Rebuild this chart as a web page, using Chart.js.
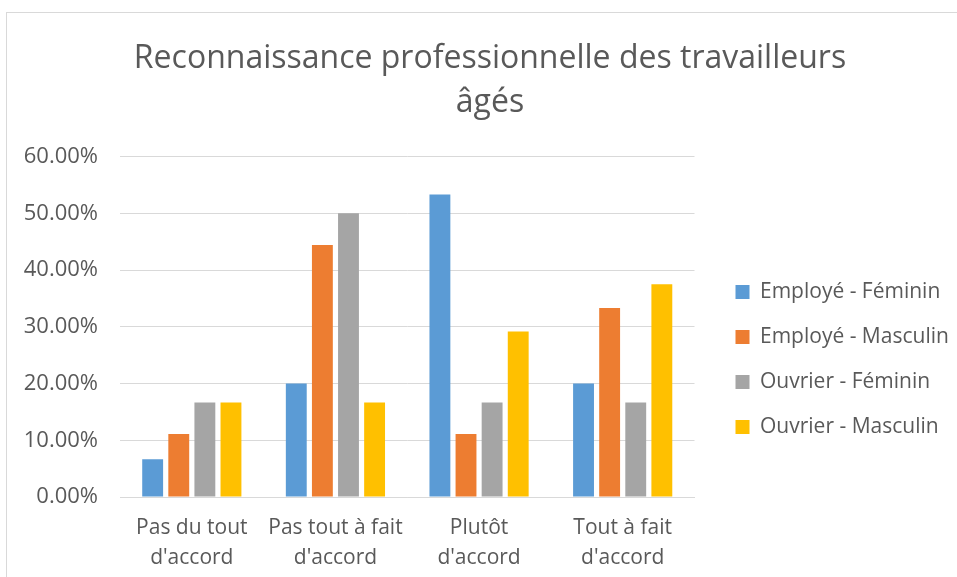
<!DOCTYPE html>
<html><head><meta charset="utf-8">
<script src="https://cdn.jsdelivr.net/npm/chart.js@4/dist/chart.umd.min.js"></script>
<style>
html,body{margin:0;padding:0;background:#fff;}
#wrap{position:relative;width:957px;height:577px;overflow:hidden;}
#frame{position:absolute;left:6px;top:12px;width:1000px;height:700px;border:1px solid #d9d9d9;box-sizing:border-box;}
#c{position:absolute;left:0;top:0;}
</style></head>
<body><div id="wrap"><div id="frame"></div><canvas id="c" width="957" height="577"></canvas></div>
<script>
const titleLines = ["Reconnaissance professionnelle des travailleurs", "âgés"];
const categories = [["Pas du tout","d'accord"],["Pas tout à fait","d'accord"],["Plutôt","d'accord"],["Tout à fait","d'accord"]];
const seriesNames = ["Employé - Féminin","Employé - Masculin","Ouvrier - Féminin","Ouvrier - Masculin"];
const employeFeminin = [0.0667, 0.20, 0.5333, 0.20];
const employeMasculin = [0.1111, 0.4444, 0.1111, 0.3333];
const ouvrierFeminin = [0.1667, 0.50, 0.1667, 0.1667];
const ouvrierMasculin = [0.1667, 0.1667, 0.2917, 0.375];
const yTicks = [0, 0.1, 0.2, 0.3, 0.4, 0.5, 0.6];
const colors = ["#5B9BD5","#ED7D31","#A5A5A5","#FFC000"];
const values = [employeFeminin, employeMasculin, ouvrierFeminin, ouvrierMasculin];

const FONT = "'Open Sans', sans-serif";
const shiftBoxes = {
  id:'shiftBoxes',
  afterLayout(chart){
    const l = chart.legend;
    if(l){ const dx = 17, dy = 71; l.left += dx; l.right = chart.width; l.top += dy; l.bottom += dy; }
    const t = chart.titleBlock;
    if(t){ t.left += 27; t.right += 27; }
  }
};
new Chart(document.getElementById('c'), {
  type:'bar',
  data:{
    labels: categories,
    datasets: seriesNames.map((n,i)=>({label:n, data:values[i], backgroundColor:colors[i], borderWidth:0,
      categoryPercentage:0.727, barPercentage:0.8}))
  },
  options:{
    responsive:false, animation:false,
    layout:{padding:{left:0,right:31,top:0,bottom:0}},
    plugins:{
      title:{display:true, text:titleLines, color:'#595959', font:{family:FONT,size:32,weight:'normal',lineHeight:1.4}, padding:{top:36,bottom:31}},
      legend:{position:'right', labels:{color:'#595959', font:{family:FONT,size:21}, boxWidth:14, boxHeight:14, padding:24}},
      tooltip:{enabled:false}
    },
    scales:{
      x:{afterFit(s){s.height=80;}, grid:{display:false, drawTicks:false}, border:{color:'#d9d9d9', width:1},
        ticks:{color:'#595959', padding:16, font:{family:FONT,size:21,lineHeight:1.43}, maxRotation:0}},
      y:{min:0,max:0.6, afterFit(s){s.width=120;},
        afterBuildTicks(s){s.ticks = yTicks.map(v=>({value:v}));},
        grid:{color:'#d9d9d9', drawTicks:false}, border:{display:false},
        ticks:{color:'#595959', padding:22, font:{family:FONT,size:22}, callback:v=>(v*100).toFixed(2)+'%'}}
    }
  },
  plugins:[shiftBoxes]
});
</script></body></html>
